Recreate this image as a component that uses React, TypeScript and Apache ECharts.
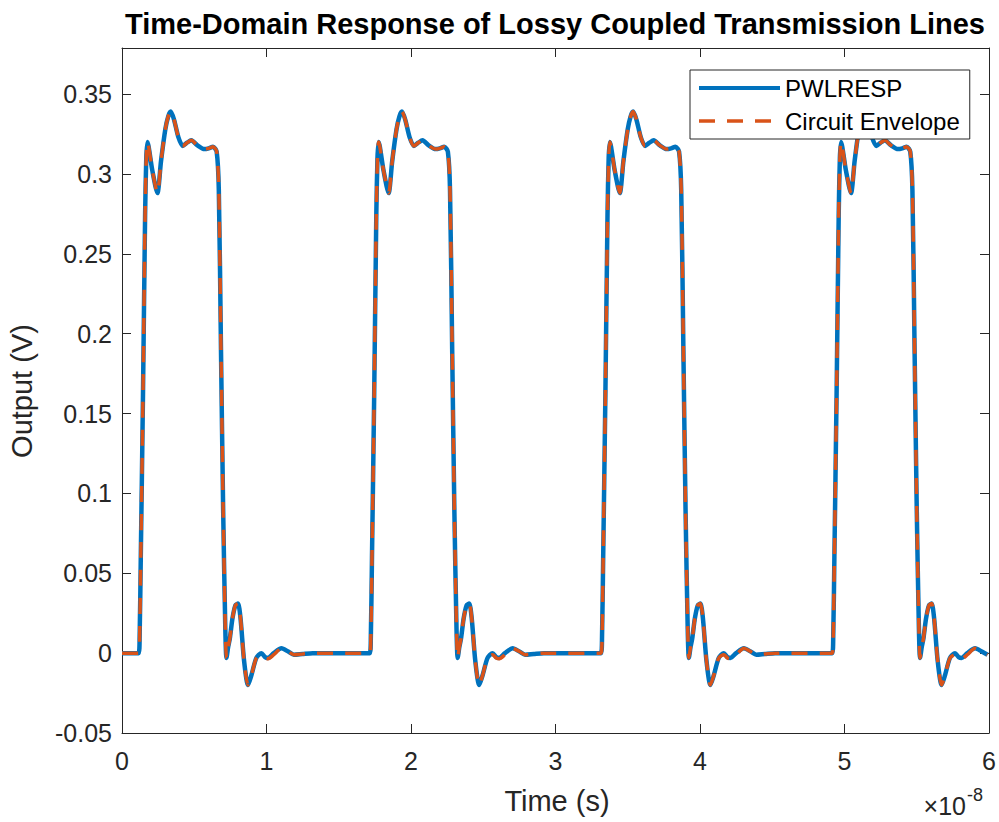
import React, { useEffect, useRef } from "react";
import * as echarts from "echarts";

// Time axis is in units of 1e-8 s
const X_TICKS = [0, 1, 2, 3, 4, 5, 6];
const Y_TICKS = [-0.05, 0, 0.05, 0.1, 0.15, 0.2, 0.25, 0.3, 0.35];

// leading flat segment
const LEAD_T = [0];
const LEAD_V = [0];

// start time of each pulse (rise onset)
const PULSE_STARTS = [0.115, 1.715, 3.315, 4.915];

// pulse shape, time relative to pulse onset
const PULSE_REL_T = [
  0, 0.007, 0.015, 0.03, 0.045, 0.053, 0.061, 0.095, 0.13, 0.155, 0.185,
  0.205, 0.222, 0.245, 0.275, 0.305, 0.335, 0.365, 0.405, 0.455, 0.485,
  0.515, 0.54, 0.555, 0.57, 0.585, 0.6, 0.608, 0.62, 0.631, 0.65, 0.67,
  0.688, 0.705, 0.73, 0.757, 0.78, 0.815, 0.85, 0.875, 0.896, 0.935, 0.989,
  1.035, 1.075, 1.135, 1.205,
];
const PWLRESP_V = [
  0, 0.01, 0.06, 0.16, 0.275, 0.31, 0.32, 0.302, 0.288, 0.308, 0.328,
  0.336, 0.339, 0.334, 0.323, 0.3175, 0.3195, 0.321, 0.318, 0.3155, 0.316,
  0.317, 0.314, 0.29, 0.19, 0.09, 0.015, -0.003, 0.004, 0.009, 0.022, 0.03,
  0.031, 0.022, -0.005, -0.02, -0.014, -0.003, 0.0, -0.0025, -0.003, 0.0, 0.003,
  0.001, -0.001, -0.0005, 0,
];
const ENVELOPE_V = [
  0, 0.01, 0.06, 0.16, 0.275, 0.31, 0.32, 0.302, 0.288, 0.308, 0.328,
  0.336, 0.339, 0.334, 0.323, 0.3175, 0.3195, 0.321, 0.318, 0.3155, 0.316,
  0.317, 0.314, 0.29, 0.19, 0.09, 0.015, -0.003, 0.004, 0.009, 0.022, 0.03,
  0.031, 0.022, -0.005, -0.02, -0.014, -0.003, -0.001, -0.003, -0.0035, -0.001, 0.003,
  0.001, -0.001, -0.0005, 0,
];

const X_MIN = 0;
const X_MAX = 6;
const Y_MIN = -0.05;
const Y_MAX = 0.3788;

function buildSeries(vals: number[]): number[][] {
  const out: number[][] = [];
  LEAD_T.forEach((t, i) => out.push([t, LEAD_V[i]]));
  PULSE_STARTS.forEach((s) => {
    PULSE_REL_T.forEach((r, i) => {
      const t = s + r;
      if (t <= X_MAX) out.push([+t.toFixed(4), vals[i]]);
    });
  });
  return out;
}

const FONT = "'Liberation Sans', Arial, Helvetica, sans-serif";
const AX = "#262626";
const BLUE = "#0072BD";
const ORANGE = "#D95319";
const DASH = [16, 12];

export default function App() {
  const ref = useRef<HTMLDivElement>(null);
  useEffect(() => {
    document.body.style.margin = "0";
    const chart = echarts.init(ref.current!, undefined, { renderer: "svg" });
    const tickStyle = { color: AX, width: 1 };
    const lineAxis = { show: true, onZero: false, lineStyle: { color: AX, width: 1 } };
    chart.setOption({
      animation: false,
      backgroundColor: "#ffffff",
      textStyle: { fontFamily: FONT },
      grid: { left: 122, top: 48, width: 867, height: 685, containLabel: false },
      legend: {
        orient: "vertical",
        left: 690,
        top: 70,
        padding: [6, 10, 6, 7],
        itemWidth: 81,
        itemHeight: 14,
        itemGap: 9,
        backgroundColor: "#ffffff",
        borderColor: AX,
        borderWidth: 1,
        borderRadius: 0,
        itemStyle: { opacity: 0 },
        textStyle: { fontSize: 24, color: "#000000", fontFamily: FONT },
        data: [
          { name: "PWLRESP", lineStyle: { width: 4, color: BLUE } },
          { name: "Circuit Envelope", lineStyle: { width: 3.5, color: ORANGE, type: DASH } },
        ],
      },
      xAxis: [
        {
          type: "value",
          min: X_MIN,
          max: X_MAX,
          interval: 1,
          position: "bottom",
          axisLine: lineAxis,
          axisTick: { show: true, inside: true, length: 9, lineStyle: tickStyle },
          axisLabel: {
            fontSize: 25,
            color: AX,
            margin: 15,
            fontFamily: FONT,
            formatter: (v: number) => (X_TICKS.includes(v) ? String(v) : ""),
          },
          splitLine: { show: false },
        },
        {
          type: "value",
          min: X_MIN,
          max: X_MAX,
          interval: 1,
          position: "top",
          axisLine: lineAxis,
          axisTick: { show: true, inside: true, length: 9, lineStyle: tickStyle },
          axisLabel: { show: false },
          splitLine: { show: false },
        },
      ],
      yAxis: [
        {
          type: "value",
          min: Y_MIN,
          max: Y_MAX,
          interval: 0.05,
          position: "left",
          axisLine: lineAxis,
          axisTick: { show: true, inside: true, length: 9, lineStyle: tickStyle },
          axisLabel: {
            fontSize: 25,
            color: AX,
            margin: 10,
            fontFamily: FONT,
            showMaxLabel: false,
            formatter: (v: number) => {
              const r = Math.round(v * 100) / 100;
              return Y_TICKS.some((t) => Math.abs(t - v) < 1e-6) ? String(r) : "";
            },
          },
          splitLine: { show: false },
        },
        {
          type: "value",
          min: Y_MIN,
          max: Y_MAX,
          interval: 0.05,
          position: "right",
          axisLine: lineAxis,
          axisTick: { show: true, inside: true, length: 9, lineStyle: tickStyle },
          axisLabel: { show: false },
          splitLine: { show: false },
        },
      ],
      series: [
        {
          name: "PWLRESP",
          type: "line",
          xAxisIndex: 0,
          yAxisIndex: 0,
          symbol: "none",
          showSymbol: false,
          smooth: 0.25,
          color: BLUE,
          lineStyle: { color: BLUE, width: 4.5 },
          data: buildSeries(PWLRESP_V),
        },
        {
          name: "Circuit Envelope",
          type: "line",
          xAxisIndex: 0,
          yAxisIndex: 0,
          symbol: "none",
          showSymbol: false,
          smooth: 0.25,
          color: ORANGE,
          lineStyle: { color: ORANGE, width: 3.5, type: DASH },
          data: buildSeries(ENVELOPE_V),
        },
      ],
      graphic: [
        {
          type: "text",
          x: 555,
          y: 24,
          style: {
            text: "Time-Domain Response of Lossy Coupled Transmission Lines",
            fontFamily: FONT,
            fontSize: 29,
            fontWeight: "bold",
            fill: "#000000",
            textAlign: "center",
            textVerticalAlign: "middle",
          },
        },
        {
          type: "text",
          x: 557,
          y: 801,
          style: {
            text: "Time (s)",
            fontFamily: FONT,
            fontSize: 29,
            fill: AX,
            textAlign: "center",
            textVerticalAlign: "middle",
          },
        },
        {
          type: "text",
          x: 22,
          y: 391,
          rotation: Math.PI / 2,
          style: {
            text: "Output (V)",
            fontFamily: FONT,
            fontSize: 29,
            fill: AX,
            textAlign: "center",
            textVerticalAlign: "middle",
          },
        },
        {
          type: "text",
          x: 966,
          y: 806,
          style: {
            text: "×10",
            fontFamily: FONT,
            fontSize: 25,
            fill: AX,
            textAlign: "right",
            textVerticalAlign: "middle",
          },
        },
        {
          type: "text",
          x: 967,
          y: 795,
          style: {
            text: "-8",
            fontFamily: FONT,
            fontSize: 18,
            fill: AX,
            textAlign: "left",
            textVerticalAlign: "middle",
          },
        },
      ],
    });
    return () => chart.dispose();
  }, []);
  return <div ref={ref} style={{ width: 999, height: 822 }} />;
}
